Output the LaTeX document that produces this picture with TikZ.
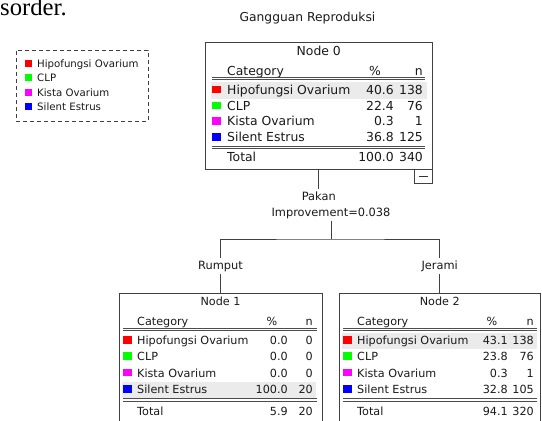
\documentclass[tikz,border=0pt]{standalone}
\usepackage{fontspec}
\setmainfont{DejaVu Sans}
\newfontfamily\capfont{Liberation Serif}
\usepackage{xcolor}
\definecolor{catred}{RGB}{255,0,0}
\definecolor{catgreen}{RGB}{0,255,0}
\definecolor{catpink}{RGB}{255,0,255}
\definecolor{catblue}{RGB}{0,0,255}

\begin{document}
\begin{tikzpicture}[
    x=1pt, y=-1pt,
    txt/.style={inner sep=0pt, text height=0.72em, text depth=0pt, text=black!90},
    fzero/.style={txt, font=\fontsize{12.4}{14}\selectfont},
    fone/.style={txt, font=\fontsize{11.2}{13}\selectfont},
    fleg/.style={txt, font=\fontsize{10.2}{12}\selectfont},
    split/.style={txt, inner ysep=4pt, font=\fontsize{11.4}{13}\selectfont},
    lbl/.style={anchor=west},
    val/.style={anchor=east},
    nodebox/.style={rectangle, draw=black!75, line width=0.9pt, inner sep=0pt},
    sq/.style={rectangle, fill=#1, inner sep=0pt, minimum width=8.5pt, minimum height=7.5pt},
    band/.style={fill=black!8},
    tabrule/.style={draw=black!70, line width=0.7pt},
    link/.style={draw=black!75, line width=0.9pt}
]
    \clip (0,0) rectangle (542,421);

    % Caption remnant and title
    \node[anchor=base west, inner sep=0pt, font=\capfont\fontsize{24.7}{26}\selectfont] (cap) at (0,15) {sorder.};
    \node[txt, font=\fontsize{12.3}{14}\selectfont] (title) at (307.5,18) {Gangguan Reproduksi};

    % Legend
    \node[rectangle, draw=black!75, line width=0.8pt, dash pattern=on 4pt off 3pt, minimum width=132pt, minimum height=71pt] (legend) at (82,85.5) {};
    \node[sq=catred, minimum width=7pt, minimum height=7pt] (lg1) at (28.5,63) {};
    \node[fleg, lbl] (lgt1) at (37,64) {Hipofungsi Ovarium};
    \node[sq=catgreen, minimum width=7pt, minimum height=7pt] (lg2) at (28.5,77.5) {};
    \node[fleg, lbl] (lgt2) at (37,78.3) {CLP};
    \node[sq=catpink, minimum width=7pt, minimum height=7pt] (lg3) at (28.5,92) {};
    \node[fleg, lbl] (lgt3) at (37,92.5) {Kista Ovarium};
    \node[sq=catblue, minimum width=7pt, minimum height=7pt] (lg4) at (28.5,106.5) {};
    \node[fleg, lbl] (lgt4) at (37,107.3) {Silent Estrus};

    % Node 0
    \node[nodebox, minimum width=226.5pt, minimum height=127pt] (node0) at (318.75,105.5) {};
    \node[nodebox, minimum width=18pt, minimum height=14pt, anchor=north east] (fold0) at (node0.south east) {};
    \draw[black!80, line width=0.9pt] ([xshift=-4.5pt]fold0.center) -- ([xshift=4.5pt]fold0.center);
    \node[fzero] (h0) at (318.75,52) {Node 0};
    \node[fzero, lbl] (c0) at (227,72) {Category};
    \node[fzero] (pc0) at (375,72) {\%};
    \node[fzero, val] (nc0) at (423,72) {n};
    \draw[tabrule] (212,77.6) -- (425,77.6) (212,79.6) -- (425,79.6);
    \fill[band] (211,82) rectangle (427,99);
    \node[sq=catred] (s01) at (216.5,89.5) {};
    \node[fzero, lbl] (t01) at (227,90.5) {Hipofungsi Ovarium};
    \node[fzero, val] (p01) at (394,90.5) {40.6};
    \node[fzero, val] (n01) at (423,90.5) {138};
    \node[sq=catgreen] (s02) at (216.5,105.5) {};
    \node[fzero, lbl] (t02) at (227,106.5) {CLP};
    \node[fzero, val] (p02) at (394,106.5) {22.4};
    \node[fzero, val] (n02) at (423,106.5) {76};
    \node[sq=catpink] (s03) at (216.5,121) {};
    \node[fzero, lbl] (t03) at (227,122) {Kista Ovarium};
    \node[fzero, val] (p03) at (394,122) {0.3};
    \node[fzero, val] (n03) at (423,122) {1};
    \node[sq=catblue] (s04) at (216.5,137) {};
    \node[fzero, lbl] (t04) at (227,138) {Silent Estrus};
    \node[fzero, val] (p04) at (394,138) {36.8};
    \node[fzero, val] (n04) at (423,138) {125};
    \draw[tabrule] (212,146) -- (425,146) (212,148.5) -- (425,148.5);
    \node[fzero, lbl] (t05) at (227,158) {Total};
    \node[fzero, val] (p05) at (394,158) {100.0};
    \node[fzero, val] (n05) at (423,158) {340};

    % Split
    \node[split] (pakan) at (318.75,197) {Pakan};
    \node[split] (improv) at (331,213) {Improvement=0.038};
    \coordinate (fork) at (331,239);
    \node[split] (rumput) at (220.5,266) {Rumput};
    \node[split] (jerami) at (439.75,266) {Jerami};

    % Node 1
    \node[nodebox, minimum width=203pt, minimum height=150pt, anchor=north] (node1) at (220.5,293) {};
    \node[fone] (h1) at (220.5,302) {Node 1};
    \node[fone, lbl] (c1) at (137,322) {Category};
    \node[fone] (pc1) at (272,322) {\%};
    \node[fone, val] (nc1) at (313,322) {n};
    \draw[tabrule] (123,328) -- (317,328) (123,330) -- (317,330);
    \fill[band] (122,382) rectangle (316,397.5);
    \node[sq=catred] (s11) at (127.5,340) {};
    \node[fone, lbl] (t11) at (137,341) {Hipofungsi Ovarium};
    \node[fone, val] (p11) at (288,341) {0.0};
    \node[fone, val] (n11) at (313,341) {0};
    \node[sq=catgreen] (s12) at (127.5,356) {};
    \node[fone, lbl] (t12) at (137,357) {CLP};
    \node[fone, val] (p12) at (288,357) {0.0};
    \node[fone, val] (n12) at (313,357) {0};
    \node[sq=catpink] (s13) at (127.5,372.5) {};
    \node[fone, lbl] (t13) at (137,373.5) {Kista Ovarium};
    \node[fone, val] (p13) at (288,373.5) {0.0};
    \node[fone, val] (n13) at (313,373.5) {0};
    \node[sq=catblue] (s14) at (127.5,389) {};
    \node[fone, lbl] (t14) at (137,390) {Silent Estrus};
    \node[fone, val] (p14) at (288,390) {100.0};
    \node[fone, val] (n14) at (313,390) {20};
    \draw[tabrule] (123,398.5) -- (317,398.5) (123,401) -- (317,401);
    \node[fone, lbl] (t15) at (137,411.5) {Total};
    \node[fone, val] (p15) at (288,411.5) {5.9};
    \node[fone, val] (n15) at (313,411.5) {20};

    % Node 2
    \node[nodebox, minimum width=201.5pt, minimum height=150pt, anchor=north] (node2) at (439.75,293) {};
    \node[fone] (h2) at (439.75,302) {Node 2};
    \node[fone, lbl] (c2) at (357,322) {Category};
    \node[fone] (pc2) at (492,322) {\%};
    \node[fone, val] (nc2) at (534,322) {n};
    \draw[tabrule] (343,328) -- (537,328) (343,330) -- (537,330);
    \fill[band] (342,333) rectangle (537,349);
    \node[sq=catred] (s21) at (347.5,340) {};
    \node[fone, lbl] (t21) at (357,341) {Hipofungsi Ovarium};
    \node[fone, val] (p21) at (508,341) {43.1};
    \node[fone, val] (n21) at (534,341) {138};
    \node[sq=catgreen] (s22) at (347.5,356) {};
    \node[fone, lbl] (t22) at (357,357) {CLP};
    \node[fone, val] (p22) at (508,357) {23.8};
    \node[fone, val] (n22) at (534,357) {76};
    \node[sq=catpink] (s23) at (347.5,372.5) {};
    \node[fone, lbl] (t23) at (357,373.5) {Kista Ovarium};
    \node[fone, val] (p23) at (508,373.5) {0.3};
    \node[fone, val] (n23) at (534,373.5) {1};
    \node[sq=catblue] (s24) at (347.5,389) {};
    \node[fone, lbl] (t24) at (357,390) {Silent Estrus};
    \node[fone, val] (p24) at (508,390) {32.8};
    \node[fone, val] (n24) at (534,390) {105};
    \draw[tabrule] (343,398.5) -- (537,398.5) (343,401) -- (537,401);
    \node[fone, lbl] (t25) at (357,411.5) {Total};
    \node[fone, val] (p25) at (508,411.5) {94.1};
    \node[fone, val] (n25) at (534,411.5) {320};

    % Connectors
    \draw[link] (node0.south) -- (pakan.north);
    \draw[link] (improv.south) -- (fork);
    \draw[link] (rumput.north) |- (fork) -| (jerami.north);
    \draw[link] (rumput.south) -- (node1.north);
    \draw[link] (jerami.south) -- (node2.north);

\end{tikzpicture}
\end{document}
